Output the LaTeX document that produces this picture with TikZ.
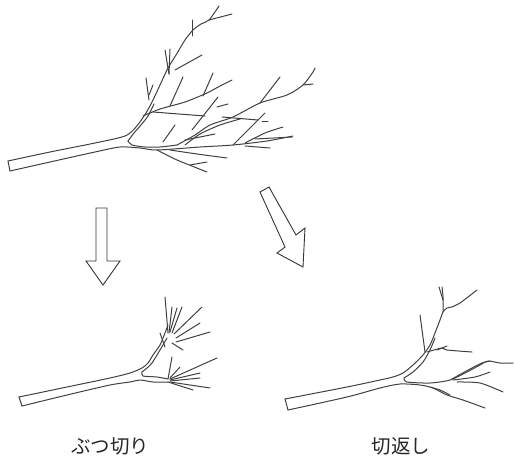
\documentclass[tikz,border=0pt]{standalone}
\usepackage{fontspec}
\newfontfamily\jpfont{Noto Sans CJK JP}
\begin{document}
\begin{tikzpicture}[x=1pt,y=-1pt,
  br/.style={line width=1pt, draw=black!75, line cap=round, line join=round},
  arrowshape/.style={line width=0.9pt, draw=black!80, fill=white, line join=miter},
  lbl/.style={font=\jpfont\fontsize{19.5}{19.5}\selectfont, text=black!85, inner sep=0pt}]
\useasboundingbox (0,0) rectangle (514,460);
\def\cv#1{\draw[br] plot[smooth,tension=0.45] coordinates {#1};}

% ---------------- top tree ----------------
\draw[br] (8,161) -- (10,171);
\cv{(8,161)(50,152)(95,143)(125,136)(136,127)(146,113)(153,100)(160,85)(168,68)(176,55)(185,40)(193,30)(201,24)(209,20)(219,6)}
\draw[br] (209,20) -- (232,14);
\cv{(128,141)(134,133)(141,125)(148,116)(154,104)}
\cv{(128,141)(132,145)(145,147)(160,147)(177,145)}
\cv{(10,171)(50,162)(95,152)(120,147)(140,148)(157,150)(200,147)(233,145)(267,141)(293,136)}
\draw[br] (192,36) -- (192,20);
\draw[br] (175,70) -- (202,55);
\draw[br] (169,74) -- (165,50);
\draw[br] (169,74) -- (170,49);
\draw[br] (149,100) -- (146,78);
\draw[br] (149,95) -- (153,85);
\cv{(143,116)(160,109)(185,102)(207,93)(220,86)(232,80)}
\draw[br] (203,96) -- (213,73);
\draw[br] (170,106) -- (183,77);
\draw[br] (153,112) -- (205,116);
\draw[br] (217,107) -- (228,104);
\draw[br] (222,117) -- (258,120);
\draw[br] (262,121) -- (268,121);
\cv{(177,145)(195,135)(210,125)(233,117)(260,103)(287,95)(303,85)(313,72)(315,68)}
\cv{(185,145)(200,134)(220,125)(240,119)}
\draw[br] (260,103) -- (280,77);
\draw[br] (303,85) -- (313,84);
\draw[br] (163,142) -- (175,125);
\draw[br] (192,130) -- (218,97);
\draw[br] (185,140) -- (215,134);
\draw[br] (233,145) -- (265,113);
\cv{(245,143)(265,133)(283,127)}
\draw[br] (255,139) -- (292,137);
\draw[br] (245,146) -- (270,148);
\cv{(157,150)(177,160)(207,172)}
\draw[br] (190,165) -- (207,162);
\cv{(170,150)(197,154)(227,158)}

% ---------------- arrows ----------------
\draw[arrowshape] (96,208) -- (107,208) -- (107,261) -- (120,261) -- (103,285) -- (86,261) -- (96,261) -- cycle;
\draw[arrowshape] (260,192) -- (269,187) -- (296,235) -- (305,228) -- (303,267) -- (277,253) -- (285,247) -- cycle;

% ---------------- bottom-left tree ----------------
\draw[br] (19,397) -- (22,406);
\cv{(19,397)(67,387)(110,378)(130,373)(142,368)(148,363)(153,355)(160,345)(165,333)(168,325)}
\cv{(142,372)(147,368)(152,363)(160,350)(167,338)}
\cv{(142,372)(143,376)(157,377)(168,379)}
\cv{(22,406)(67,395)(110,385)(130,382)(140,380)(153,382)(168,382)}
\draw[br] (165,297) -- (168,333);
\draw[br] (172,307) -- (169,333);
\draw[br] (182,307) -- (172,333);
\draw[br] (177,308) -- (170,332);
\draw[br] (202,307) -- (174,334);
\draw[br] (200,323) -- (176,338);
\draw[br] (210,332) -- (176,342);
\draw[br] (183,350) -- (172,343);
\draw[br] (160,333) -- (165,347);
\draw[br] (172,357) -- (168,379);
\draw[br] (180,367) -- (170,378);
\draw[br] (217,358) -- (170,379);
\draw[br] (200,373) -- (170,380);
\draw[br] (200,378) -- (170,381);
\draw[br] (210,388) -- (170,382);
\draw[br] (193,390) -- (168,382);

% ---------------- bottom-right tree ----------------
\draw[br] (285,399) -- (288,410);
\cv{(285,399)(347,387)(380,380)(393,377)(403,373)(413,365)(423,355)(430,345)(435,333)(440,320)(443,312)(447,308)(452,307)(460,303)(468,297)(477,290)}
\cv{(443,312)(443,297)(442,287)}
\draw[br] (443,300) -- (439,287);
\cv{(404,378)(413,372)(423,362)(430,350)(435,338)}
\draw[br] (425,352) -- (420,315);
\cv{(427,352)(442,348)(447,350)(472,352)}
\draw[br] (437,350) -- (447,346);
\cv{(404,378)(407,382)(430,383)(450,380)(467,372)(480,365)(488,361)(500,363)(513,363)}
\cv{(452,379)(470,369)(482,363)(490,361)}
\cv{(453,380)(475,377)(490,372)}
\cv{(457,382)(480,383)(503,392)}
\cv{(288,410)(347,397)(380,388)(400,384)(420,385)(433,388)(447,395)(463,400)(485,408)}
\cv{(430,387)(440,390)(450,395)}

% ---------------- labels ----------------
\node[lbl] (butsu) at (110,446) {ぶつ切り};
\node[lbl] (kiri) at (401,446) {切返し};
\end{tikzpicture}
\end{document}
